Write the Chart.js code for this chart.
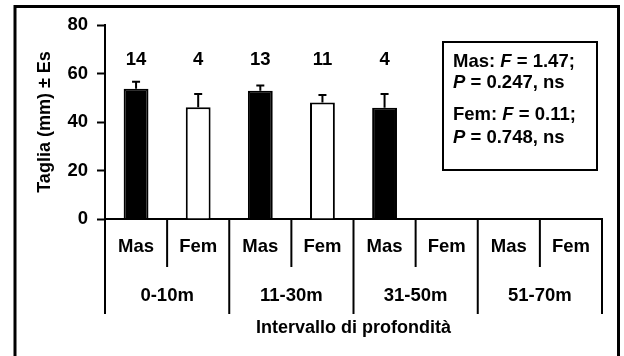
<!DOCTYPE html>
<html>
<head>
<meta charset="utf-8">
<script src="https://cdn.jsdelivr.net/npm/chart.js@4.4.1/dist/chart.umd.min.js"></script>
<style>
  html, body { margin: 0; padding: 0; background: #fff; }
  canvas { display: block; }
</style>
</head>
<body>
<canvas id="c" width="624" height="356"></canvas>
<script>
// Depth intervals and sexes
const depthRanges = ['0-10m', '11-30m', '31-50m', '51-70m'];
const sexes = ['Mas', 'Fem'];

// Mean body size (mm), standard error and sample size per depth interval
const masMean = [53.7, 52.9, 45.9, null];
const masSE   = [2.9, 2.2, 5.6, null];
const masN    = [14, 13, 4, null];

const femMean = [46.1, 48.0, null, null];
const femSE   = [5.4, 3.1, null, null];
const femN    = [4, 11, null, null];

// Y axis ticks
const yTicks = [0, 20, 40, 60, 80];

// ANOVA results shown in the inset box
const statsLines = [
  [['Mas: ', false], ['F', true], [' = 1.47;', false]],
  [['P', true], [' = 0.247, ns', false]],
  null,
  [['Fem: ', false], ['F', true], [' = 0.11;', false]],
  [['P', true], [' = 0.748, ns', false]]
];

// Interleave Mas / Fem into one slot per bar
const slotLabels = [], slotMean = [], slotSE = [], slotN = [], slotColor = [];
depthRanges.forEach((d, i) => {
  slotLabels.push(sexes[0]); slotMean.push(masMean[i]); slotSE.push(masSE[i]); slotN.push(masN[i]); slotColor.push('#000');
  slotLabels.push(sexes[1]); slotMean.push(femMean[i]); slotSE.push(femSE[i]); slotN.push(femN[i]); slotColor.push('#fff');
});

const FONT = '"Liberation Sans", Arial, sans-serif';
const nLabelLevel = 65.6;

const decorations = {
  id: 'decorations',
  afterDraw(chart) {
    const ctx = chart.ctx;
    const xs = chart.scales.x, ys = chart.scales.y;
    const area = chart.chartArea;
    ctx.save();

    // outer frame
    ctx.strokeStyle = '#000';
    ctx.lineWidth = 3;
    ctx.strokeRect(15, 6.5, 603.5, 360);

    // error bars and sample sizes
    ctx.lineWidth = 2;
    ctx.fillStyle = '#000';
    ctx.font = 'bold 18.5px ' + FONT;
    ctx.textAlign = 'center';
    ctx.textBaseline = 'middle';
    slotMean.forEach((m, i) => {
      if (m == null) return;
      const x = xs.getPixelForValue(i);
      const yTop = ys.getPixelForValue(m);
      const yErr = ys.getPixelForValue(m + slotSE[i]);
      ctx.beginPath();
      ctx.moveTo(x, yTop);
      ctx.lineTo(x, yErr);
      ctx.moveTo(x - 4, yErr);
      ctx.lineTo(x + 4, yErr);
      ctx.stroke();
      ctx.fillText(String(slotN[i]), x, ys.getPixelForValue(nLabelLevel));
    });

    // category dividers below the axis
    const half = (xs.getPixelForValue(1) - xs.getPixelForValue(0)) / 2;
    for (let b = 0; b <= slotLabels.length; b++) {
      const x = b < slotLabels.length ? xs.getPixelForValue(b) - half : xs.getPixelForValue(b - 1) + half;
      const isGroup = b % 2 === 0;
      ctx.beginPath();
      ctx.moveTo(x, area.bottom);
      ctx.lineTo(x, isGroup ? 314 : 267);
      ctx.stroke();
    }

    // sex labels and depth labels
    slotLabels.forEach((lab, i) => {
      ctx.fillText(lab, xs.getPixelForValue(i), 247);
    });
    depthRanges.forEach((d, g) => {
      const x = (xs.getPixelForValue(2 * g) + xs.getPixelForValue(2 * g + 1)) / 2;
      ctx.fillText(d, x, 296);
    });

    // statistics inset
    ctx.lineWidth = 2;
    ctx.strokeRect(443, 42, 154, 128);
    ctx.textAlign = 'left';
    const lineY = [62, 83, null, 115, 138];
    statsLines.forEach((segs, li) => {
      if (!segs) return;
      let x = 453;
      segs.forEach(([txt, ital]) => {
        ctx.font = (ital ? 'italic bold ' : 'bold ') + '18.5px ' + FONT;
        ctx.fillText(txt, x, lineY[li]);
        x += ctx.measureText(txt).width;
      });
    });
    ctx.restore();
  }
};

new Chart(document.getElementById('c'), {
  type: 'bar',
  data: {
    labels: slotLabels,
    datasets: [{
      data: slotMean,
      backgroundColor: slotColor,
      borderColor: '#000',
      borderWidth: 2,
      barPercentage: 0.4,
      categoryPercentage: 1.0
    }]
  },
  options: {
    responsive: false,
    animation: false,
    devicePixelRatio: 1,
    layout: { padding: { left: 0, right: 22, top: 25, bottom: 0 } },
    plugins: { legend: { display: false }, tooltip: { enabled: false } },
    scales: {
      x: {
        type: 'category',
        grid: { display: false },
        border: { display: true, color: '#000', width: 2 },
        ticks: { display: false },
        title: {
          display: true,
          text: 'Intervallo di profondità',
          color: '#000',
          font: { family: FONT, size: 18, weight: 'bold' },
          padding: { top: 0, bottom: 17 }
        },
        afterFit(scale) { scale.height = 137; }
      },
      y: {
        min: 0,
        max: 80,
        afterBuildTicks(scale) { scale.ticks = yTicks.map(v => ({ value: v })); },
        grid: { drawOnChartArea: false, drawTicks: true, tickLength: 8, tickWidth: 2, tickColor: '#000' },
        border: { display: true, color: '#000', width: 2 },
        ticks: {
          color: '#000',
          padding: 9,
          font: { family: FONT, size: 18.5, weight: 'bold' }
        },
        title: {
          display: true,
          text: 'Taglia (mm) ± Es',
          color: '#000',
          font: { family: FONT, size: 18, weight: 'bold' },
          padding: { top: 34, bottom: 0 }
        },
        afterFit(scale) { scale.width = 105; }
      }
    }
  },
  plugins: [decorations]
});
</script>
</body>
</html>
